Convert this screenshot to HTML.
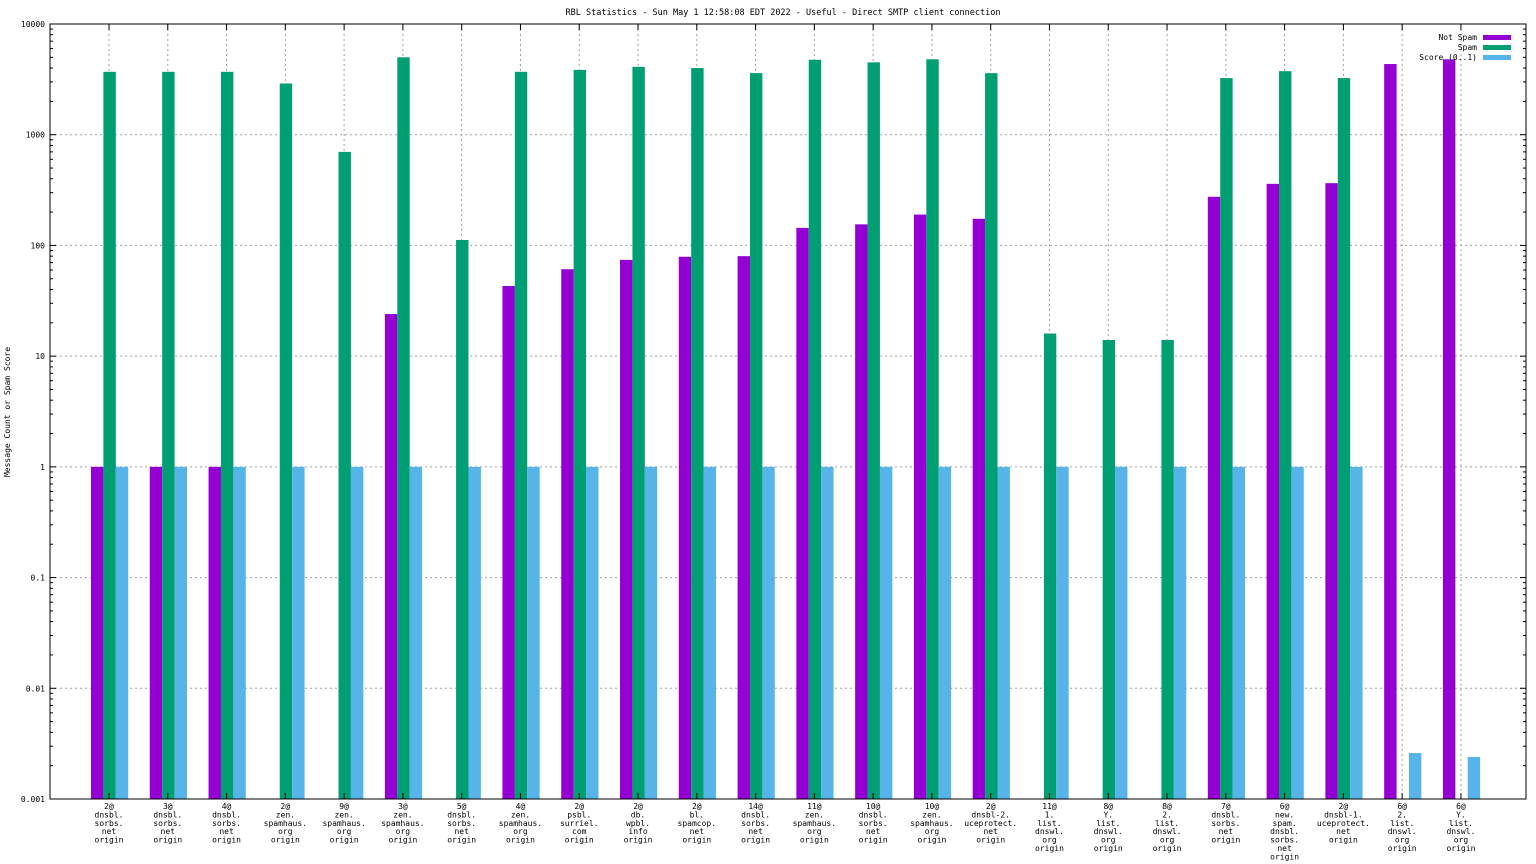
<!DOCTYPE html>
<html><head><meta charset="utf-8"><style>
body{margin:0;background:#fff;}
svg{display:block;font-family:"DejaVu Sans Mono","Liberation Mono",monospace;}
</style></head><body>
<svg id="chart" width="1536" height="864" xmlns="http://www.w3.org/2000/svg">
<text x="783" y="15" font-size="8.5" text-anchor="middle">RBL Statistics - Sun May  1 12:58:08 EDT 2022 - Useful - Direct SMTP client connection</text>
<text transform="translate(10,412) rotate(-90)" font-size="8" text-anchor="middle">Message Count or Spam Score</text>
<g id="grid"></g><g id="bars"></g><g id="axes"></g><g id="legend"></g>
</svg>
<script>
const categories=[["2@","dnsbl.","sorbs.","net","origin"],["3@","dnsbl.","sorbs.","net","origin"],["4@","dnsbl.","sorbs.","net","origin"],["2@","zen.","spamhaus.","org","origin"],["9@","zen.","spamhaus.","org","origin"],["3@","zen.","spamhaus.","org","origin"],["5@","dnsbl.","sorbs.","net","origin"],["4@","zen.","spamhaus.","org","origin"],["2@","psbl.","surriel.","com","origin"],["2@","db.","wpbl.","info","origin"],["2@","bl.","spamcop.","net","origin"],["14@","dnsbl.","sorbs.","net","origin"],["11@","zen.","spamhaus.","org","origin"],["10@","dnsbl.","sorbs.","net","origin"],["10@","zen.","spamhaus.","org","origin"],["2@","dnsbl-2.","uceprotect.","net","origin"],["11@","1.","list.","dnswl.","org","origin"],["8@","Y.","list.","dnswl.","org","origin"],["8@","2.","list.","dnswl.","org","origin"],["7@","dnsbl.","sorbs.","net","origin"],["6@","new.","spam.","dnsbl.","sorbs.","net","origin"],["2@","dnsbl-1.","uceprotect.","net","origin"],["6@","2.","list.","dnswl.","org","origin"],["6@","Y.","list.","dnswl.","org","origin"]];
const notSpam=[1,1,1,null,null,24,null,43,61,74,79,80,144,155,190,174,null,null,null,275,360,365,4350,4800];
const spam=[3700,3700,3700,2900,700,5000,112,3700,3850,4100,4000,3600,4750,4500,4800,3600,16,14,14,3250,3750,3250,null,null];
const score=[1,1,1,1,1,1,1,1,1,1,1,1,1,1,1,1,1,1,1,1,1,1,0.0026,0.0024];
const yTicks=["10000","1000","100","10","1","0.1","0.01","0.001"];
const seriesNames=["Not Spam","Spam","Score (0..1)"];
const colors=["#9400d3","#009e73","#56b4e9"];
const L=50,R=1526,T=24,B=799,NS="http://www.w3.org/2000/svg";
const y=v=>B-(Math.log10(v)+3)*(B-T)/7;
const x=i=>109+i*58.78;
function mk(parent,tag,attrs){const e=document.createElementNS(NS,tag);for(const k in attrs)e.setAttribute(k,attrs[k]);document.getElementById(parent).appendChild(e);return e;}
// grid
yTicks.forEach((t,k)=>{const v=parseFloat(t),yy=y(v);
 if(k>0&&k<yTicks.length-1){const g=mk("grid","line",{x1:L,x2:R,y1:yy,y2:yy,stroke:"#a0a0a0","stroke-dasharray":"2,3","stroke-width":1});
 
 }
 const lb=mk("axes","text",{x:45,y:yy+3,"font-size":8,"text-anchor":"end"});lb.textContent=t;
 
 
 for(let m=1;m<10&&v*m<=10000;m++){const w=m===1?6:3,ym=y(v*m);
  mk("axes","line",{x1:L,x2:L+w,y1:ym,y2:ym,stroke:"#000"});mk("axes","line",{x1:R-w,x2:R,y1:ym,y2:ym,stroke:"#000"});}
});
categories.forEach((c,i)=>{const xx=x(i);
 const g=mk("grid","line",{x1:xx,x2:xx,y1:T,y2:B,stroke:"#a0a0a0","stroke-dasharray":"2,3"});
 
 
 mk("axes","line",{x1:xx,x2:xx,y1:B,y2:B-6,stroke:"#000"});mk("axes","line",{x1:xx,x2:xx,y1:T,y2:T+6,stroke:"#000"});
 const t=mk("axes","text",{x:xx,y:809,"font-size":8,"text-anchor":"middle"});
 
 
 c.forEach((s,j)=>{const ts=document.createElementNS(NS,"tspan");ts.setAttribute("x",xx);ts.setAttribute("dy",j?8.4:0);ts.textContent=s;t.appendChild(ts);});
});
[notSpam,spam,score].forEach((arr,s)=>{arr.forEach((v,i)=>{if(v==null)return;
 const x0=x(i)-18+s*12.4,yy=y(v);
 const r=mk("bars","rect",{x:x0,y:yy,width:12.4,height:B-yy,fill:colors[s]});
 
 });});
const fr=mk("axes","rect",{x:L,y:T,width:R-L,height:B-T,fill:"none",stroke:"#000"});


seriesNames.forEach((n,s)=>{const yy=37+s*10;
 const t=mk("legend","text",{x:1477,y:yy+3,"font-size":8,"text-anchor":"end"});t.textContent=n;
 
 
 const r=mk("legend","rect",{x:1483,y:yy-2,width:28,height:5,fill:colors[s]});
 
 });
</script>
</body></html>
